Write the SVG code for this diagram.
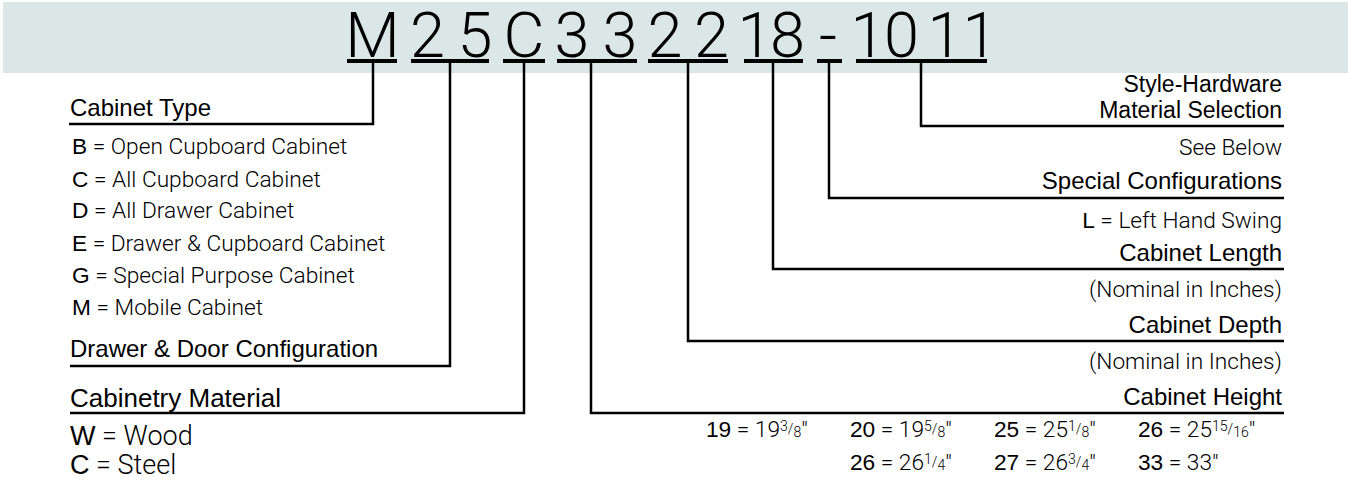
<svg xmlns="http://www.w3.org/2000/svg" width="1348" height="485" viewBox="0 0 1348 485">
<style>
text{fill:#000}
.big{font-family:Roboto,"Liberation Sans",sans-serif;font-weight:300;font-size:63px;text-anchor:middle}
.h{font-family:"Liberation Sans",Arial,sans-serif;font-size:24px}
.h23{font-size:23px}
.lt{font-family:Roboto,"Liberation Sans",sans-serif;font-weight:300}
.rg{font-family:"Liberation Sans",Arial,sans-serif;font-weight:400}
.l22{font-size:22.7px}
.l26{font-size:27px}
.end{text-anchor:end}
.ul{fill:#000}
.conn path{fill:none;stroke:#000;stroke-width:2.5}
.fr{font-size:14px}
</style>
<rect id="banner" x="3" y="2" width="1345" height="71" fill="#dbe7e7"/>
<g id="code">
<text class="big" y="57"><tspan x="372.5">M</tspan><tspan x="427.5">2</tspan><tspan x="475">5</tspan><tspan x="524">C</tspan><tspan x="572">3</tspan><tspan x="620">3</tspan><tspan x="665">2</tspan><tspan x="711.5">2</tspan><tspan x="755">1</tspan><tspan x="787.5">8</tspan><tspan x="828">-</tspan><tspan x="868">1</tspan><tspan x="901.5">0</tspan><tspan x="945">1</tspan><tspan x="980">1</tspan></text>
<rect class="ul" x="347" y="59" width="50" height="4"/>
<rect class="ul" x="411" y="59" width="78" height="4"/>
<rect class="ul" x="503" y="59" width="42" height="4"/>
<rect class="ul" x="557" y="59" width="80" height="4"/>
<rect class="ul" x="648" y="59" width="80" height="4"/>
<rect class="ul" x="744" y="59" width="59" height="4"/>
<rect class="ul" x="817" y="59" width="25" height="4"/>
<rect class="ul" x="856" y="59" width="131" height="4"/>
</g>
<g class="conn" id="connectors">
<path d="M373 63V124H69"/>
<path d="M450 63V366H70"/>
<path d="M524 63V413H70"/>
<path d="M591 63V413H1284"/>
<path d="M688 63V341H1284"/>
<path d="M773 63V269H1284"/>
<path d="M829 63V198H1284"/>
<path d="M921 63V126H1284"/>
</g>
<g id="cabinet-type">
<text class="h" x="70" y="116">Cabinet Type</text>
<text class="l22" x="72" y="154"><tspan class="rg">B</tspan><tspan class="lt"> = Open Cupboard Cabinet</tspan></text>
<text class="l22" x="72" y="187"><tspan class="rg">C</tspan><tspan class="lt"> = All Cupboard Cabinet</tspan></text>
<text class="l22" x="72" y="218"><tspan class="rg">D</tspan><tspan class="lt"> = All Drawer Cabinet</tspan></text>
<text class="l22" x="72" y="251"><tspan class="rg">E</tspan><tspan class="lt"> = Drawer &amp; Cupboard Cabinet</tspan></text>
<text class="l22" x="72" y="283"><tspan class="rg">G</tspan><tspan class="lt"> = Special Purpose Cabinet</tspan></text>
<text class="l22" x="72" y="315"><tspan class="rg">M</tspan><tspan class="lt"> = Mobile Cabinet</tspan></text>
</g>
<g id="drawer-door">
<text class="h" x="70" y="357">Drawer &amp; Door Configuration</text>
</g>
<g id="material">
<text class="h" x="70" y="407" style="font-size:26px">Cabinetry Material</text>
<text class="l26" x="70" y="445"><tspan class="rg">W</tspan><tspan class="lt"> = Wood</tspan></text>
<text class="l26" x="70" y="474"><tspan class="rg">C</tspan><tspan class="lt"> = Steel</tspan></text>
</g>
<g id="style-hardware">
<text class="h h23 end" x="1282" y="92">Style-Hardware</text>
<text class="h h23 end" x="1282" y="118">Material Selection</text>
<text class="lt l22 end" x="1282" y="155">See Below</text>
</g>
<g id="special-config">
<text class="h end" x="1282" y="189">Special Configurations</text>
<text class="l22 end" x="1282" y="228"><tspan class="rg">L</tspan><tspan class="lt"> = Left Hand Swing</tspan></text>
</g>
<g id="cabinet-length">
<text class="h end" x="1282" y="261">Cabinet Length</text>
<text class="lt l22 end" x="1282" y="297">(Nominal in Inches)</text>
</g>
<g id="cabinet-depth">
<text class="h end" x="1282" y="333">Cabinet Depth</text>
<text class="lt l22 end" x="1282" y="369">(Nominal in Inches)</text>
</g>
<g id="cabinet-height">
<text class="h end" x="1282" y="405">Cabinet Height</text>
<text class="l22" x="706" y="437"><tspan class="rg">19</tspan><tspan class="lt"> = 19</tspan><tspan class="lt fr" dy="-6">3</tspan><tspan class="lt fr" dy="3">/</tspan><tspan class="lt fr" dy="3">8</tspan><tspan class="lt">"</tspan></text>
<text class="l22" x="850" y="437"><tspan class="rg">20</tspan><tspan class="lt"> = 19</tspan><tspan class="lt fr" dy="-6">5</tspan><tspan class="lt fr" dy="3">/</tspan><tspan class="lt fr" dy="3">8</tspan><tspan class="lt">"</tspan></text>
<text class="l22" x="994" y="437"><tspan class="rg">25</tspan><tspan class="lt"> = 25</tspan><tspan class="lt fr" dy="-6">1</tspan><tspan class="lt fr" dy="3">/</tspan><tspan class="lt fr" dy="3">8</tspan><tspan class="lt">"</tspan></text>
<text class="l22" x="1138" y="437"><tspan class="rg">26</tspan><tspan class="lt"> = 25</tspan><tspan class="lt fr" dy="-6">15</tspan><tspan class="lt fr" dy="3">/</tspan><tspan class="lt fr" dy="3">16</tspan><tspan class="lt">"</tspan></text>
<text class="l22" x="850" y="470"><tspan class="rg">26</tspan><tspan class="lt"> = 26</tspan><tspan class="lt fr" dy="-6">1</tspan><tspan class="lt fr" dy="3">/</tspan><tspan class="lt fr" dy="3">4</tspan><tspan class="lt">"</tspan></text>
<text class="l22" x="994" y="470"><tspan class="rg">27</tspan><tspan class="lt"> = 26</tspan><tspan class="lt fr" dy="-6">3</tspan><tspan class="lt fr" dy="3">/</tspan><tspan class="lt fr" dy="3">4</tspan><tspan class="lt">"</tspan></text>
<text class="l22" x="1138" y="470"><tspan class="rg">33</tspan><tspan class="lt"> = 33"</tspan></text>
</g>
</svg>
